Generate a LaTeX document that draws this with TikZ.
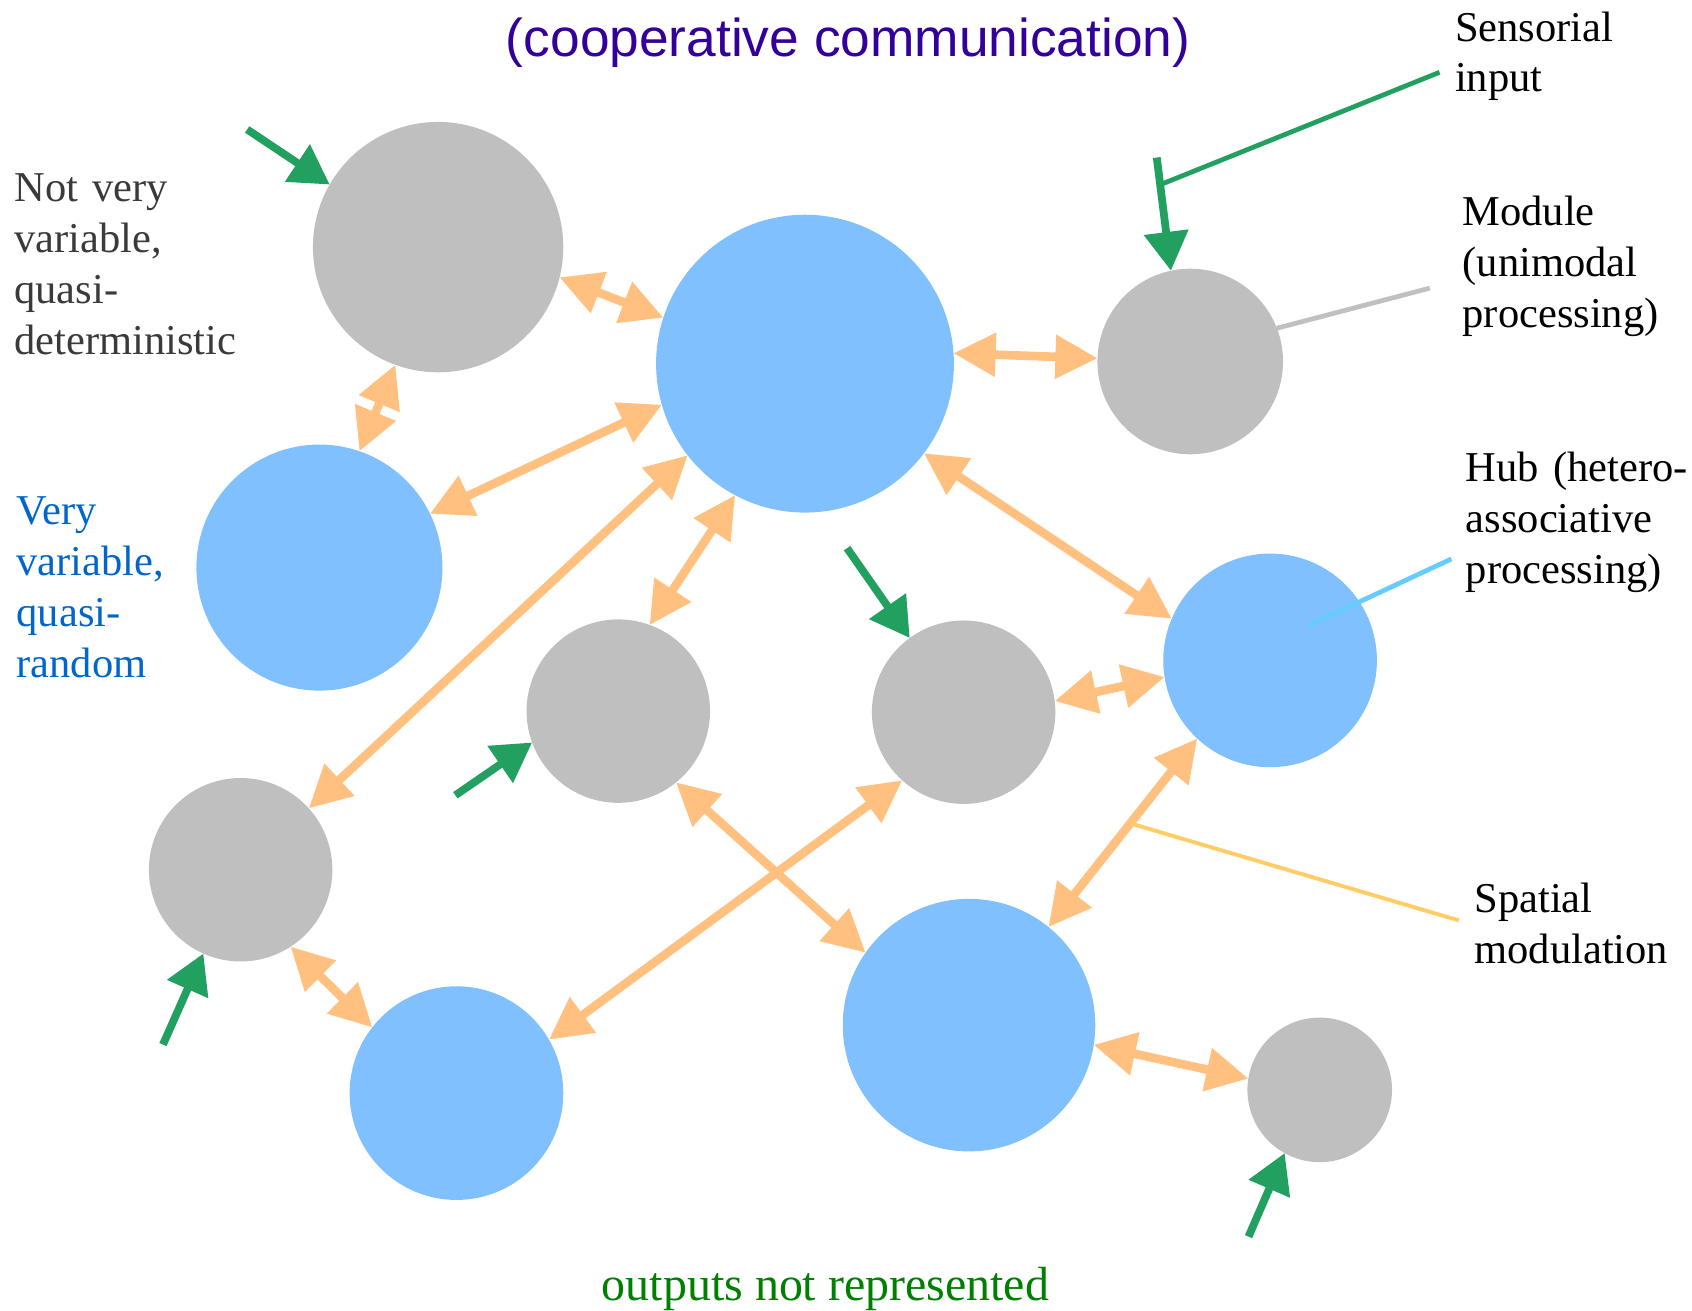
\documentclass[tikz,border=0pt]{standalone}
\usepackage{fontspec}
\setmainfont{Liberation Serif}
\setsansfont{Liberation Sans}
\usetikzlibrary{arrows.meta}
\definecolor{cgray}{HTML}{BFBFBF}
\definecolor{cblue}{HTML}{80C0FF}
\definecolor{corange}{HTML}{FFC080}
\definecolor{cgreen}{HTML}{22A060}
\definecolor{ctitle}{HTML}{330099}
\definecolor{cyellow}{HTML}{FFCC66}
\definecolor{chubline}{HTML}{66CCFF}
\definecolor{cmodline}{HTML}{C0C0C0}
\definecolor{cdark}{HTML}{3A3A3A}
\definecolor{cvblue}{HTML}{0066CC}
\definecolor{coutgreen}{HTML}{008000}
\begin{document}
\begin{tikzpicture}[x=0.5pt,y=-0.5pt,
  module/.style={circle,fill=cgray,inner sep=0,outer sep=0,minimum size=#1},
  hubc/.style={circle,fill=cblue,inner sep=0,outer sep=0,minimum size=#1},
  link/.style={corange,line width=4pt,{Triangle[length=19.5pt,width=19.5pt]}-{Triangle[length=19.5pt,width=19.5pt]}},
  input/.style={cgreen,line width=3.6pt,-{Triangle[length=18pt,width=20pt]}},
  leader/.style={line width=2.2pt},
  lbl/.style={font=\fontsize{19.7}{23.6}\selectfont,inner sep=0,anchor=base west,align=left,text width=200pt}]
\useasboundingbox (0,0) rectangle (1568,1214);
% circles
\node[module=116pt] (g1) at (406,229) {};
\node[hubc=138pt] (bc) at (746,337) {};
\node[module=86pt] (g3) at (1103,335) {};
\node[hubc=114pt] (bl) at (296,526) {};
\node[module=85pt] (g5) at (573,659) {};
\node[module=85pt] (g6) at (893,660) {};
\node[hubc=99pt] (hb) at (1177,612) {};
\node[module=85pt] (g8) at (223,806) {};
\node[hubc=99pt] (b9) at (423,1013) {};
\node[hubc=117pt] (b10) at (898,950) {};
\node[module=67pt] (g11) at (1223,1010) {};
% links
\draw[link] (g1.-14) -- (bc.162);
\draw[link] (g1.250) -- (bl.71);
\draw[link] (bc.4) -- (g3.178);
\draw[link] (bc.196) -- (bl.26);
\draw[link] (bc.218) -- (g8.42);
\draw[link] (bc.242) -- (g5.70);
\draw[link] (bc.-37) -- (hb.157);
\draw[link] (g6.7) -- (hb.189);
\draw[link] (g5.-51) -- (b10.145);
\draw[link] (g6.228) -- (b9.30);
\draw[link] (hb.227) -- coordinate[pos=0.45] (sm) (b10.51);
\draw[link] (g8.-57) -- (b9.142);
\draw[link] (b10.-9) -- (g11.171);
% inputs
\coordinate (i1) at (229,120);
\coordinate (i2) at (1072,146);
\coordinate (i3) at (785,508);
\coordinate (i4) at (422,737);
\coordinate (i5) at (151,968);
\coordinate (i6) at (1157,1146);
\draw[input] (i1) -- (g1.150);
\draw[input] (i2) -- coordinate[pos=0.24] (sj) (g3.102);
\draw[input] (i3) -- (g6.126);
\draw[input] (i4) -- (g5.200);
\draw[input] (i5) -- (g8.246);
\draw[input] (i6) -- (g11.241);
% leaders
\coordinate (esi) at (1334,67);
\coordinate (emod) at (1325,267);
\coordinate (hubin) at (1212,580);
\coordinate (ehub) at (1345,518);
\coordinate (esm) at (1352,853);
\draw[leader,cgreen] (sj) -- (esi);
\draw[leader,cmodline] (g3.21) -- (emod);
\draw[leader,chubline] (hubin) -- (ehub);
\draw[leader,cyellow,line width=1.8pt] (sm) -- (esm);
% labels
\node[font=\sffamily\fontsize{24.7}{30}\selectfont,text=ctitle,inner sep=0,anchor=base] (title) at (786,52) {(cooperative communication)};
\node[font=\fontsize{22.2}{26}\selectfont,text=coutgreen,inner sep=0,anchor=base] (out) at (765,1205) {outputs not represented};
\node[lbl,text=cdark] (lnv) at (13,187) {Not very\\variable,\\quasi-\\deterministic};
\node[lbl,text=cvblue] (lvv) at (15,486) {Very\\variable,\\quasi-\\random};
\node[lbl] (lsi) at (1348,38) {Sensorial\\input};
\node[lbl] (lmod) at (1355,209) {Module\\(unimodal\\processing)};
\node[lbl] (lhub) at (1358,446) {Hub (hetero-\\associative\\processing)};
\node[lbl] (lsm) at (1366,846) {Spatial\\modulation};
\end{tikzpicture}
\end{document}
